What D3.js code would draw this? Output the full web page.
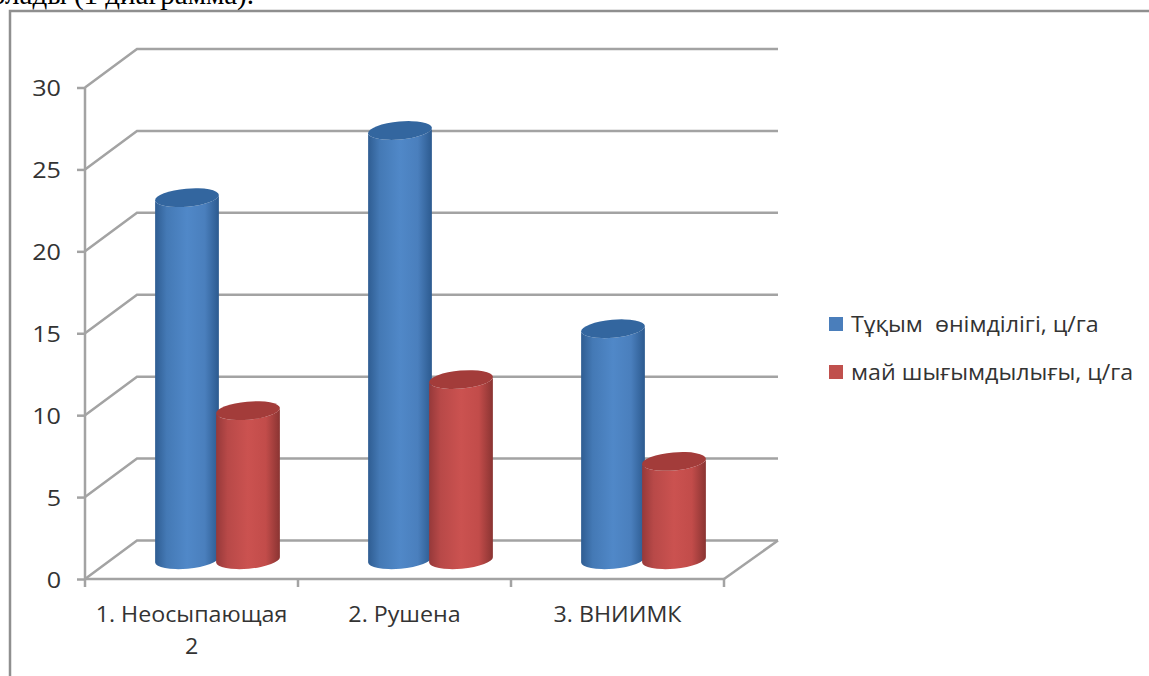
<!DOCTYPE html>
<html>
<head>
<meta charset="utf-8">
<script src="https://cdn.jsdelivr.net/npm/d3@7"></script>
<style>
  html, body { margin: 0; padding: 0; background: #fff; overflow: hidden; }
  text { font-family: "Open Sans", "Noto Sans", sans-serif; fill: #333; }
  .caption { font-family: "Liberation Serif", serif; fill: #000; }
  .legend-label { white-space: pre; }
</style>
</head>
<body>
<div id="chart"></div>
<script>
const categories = ['1. Неосыпающая 2', '2. Рушена', '3. ВНИИМК'];
const seriesNames = ['Тұқым  өнімділігі, ц/га', 'май шығымдылығы, ц/га'];
const seedYield = [22.1, 26.2, 14.1];
const oilYield = [9.1, 11, 6];
const yTicks = [0, 5, 10, 15, 20, 25, 30];
const seriesValues = [seedYield, oilYield];

const width = 1149;
const height = 676;
const gridColor = '#a3a3a3';

// depth of the fake 3D box, front axis to back wall
const depthX = 52;
const depthY = -38.5;
const tilt = -5;

const svg = d3.select('#chart').append('svg')
  .attr('width', width)
  .attr('height', height);

const x = d3.scaleBand().domain(categories).range([85, 724]);
const xSeries = d3.scaleBand().domain(d3.range(seriesNames.length)).range([70, 192]);
const y = d3.scaleLinear().domain([0, 30]).range([579, 87.5]);

// widen a text without touching its height, the fonts here run narrower
function stretch(sel, k) {
  sel.each(function () {
    const len = this.getComputedTextLength();
    d3.select(this).attr('textLength', len * k).attr('lengthAdjust', 'spacingAndGlyphs');
  });
}

// shading across the cylinders
const shades = [
  ['blue', '#2f5d92', '#5088c8', '#4a7fbd', '#2c5a8f'],
  ['red', '#96393a', '#cb5250', '#c24c4a', '#8a3432']
];
const defs = svg.append('defs');
shades.forEach(([name, edgeL, mid, midR, edgeR]) => {
  const grad = defs.append('linearGradient').attr('id', `cyl-${name}`);
  [[0, edgeL], [0.18, d3.interpolateRgb(edgeL, mid)(0.65)], [0.5, mid], [0.78, midR], [1, edgeR]]
    .forEach(([o, c]) => grad.append('stop').attr('offset', o).attr('stop-color', c));
});
const capColors = ['#33669f', '#a33c3a'];
const legendColors = ['#4a7ebb', '#c0504d'];

// page frame and the line of body text running off the top
svg.append('path')
  .attr('d', `M10,${height} V11 H${width}`)
  .attr('fill', 'none')
  .attr('stroke', '#8f8f8f')
  .attr('stroke-width', 2.5);
svg.append('text')
  .attr('class', 'caption')
  .attr('x', 254)
  .attr('y', 4)
  .attr('text-anchor', 'end')
  .attr('font-size', 29)
  .text('олады (1 диаграмма).');

// wall and floor lines
const grid = svg.append('g')
  .attr('fill', 'none')
  .attr('stroke', gridColor)
  .attr('stroke-width', 2.5);
const x0 = x.range()[0];
const x1 = x.range()[1];
grid.selectAll('path')
  .data(yTicks)
  .join('path')
  .attr('d', d => `M${x0},${y(d)} L${x0 + depthX},${y(d) + depthY} H${x1 + depthX + 2}`);
grid.append('path')
  .attr('d', `M${x1},${y(0)} L${x1 + depthX + 2},${y(0) + depthY}`);

// axes
const yAxis = svg.append('g')
  .attr('transform', `translate(${x0},0)`)
  .call(d3.axisLeft(y).tickValues(yTicks).tickSize(8).tickPadding(16));
const xAxis = svg.append('g')
  .attr('transform', `translate(0,${y(0)})`)
  .call(d3.axisBottom(x).tickSize(0).tickPadding(28));
[yAxis, xAxis].forEach(a => {
  a.selectAll('.domain').attr('stroke', gridColor).attr('stroke-width', 2.5);
  a.selectAll('.tick line').attr('stroke', gridColor).attr('stroke-width', 2.5);
  a.selectAll('.tick text').attr('font-size', 21.5).attr('font-family', null).attr('fill', '#333');
});
yAxis.selectAll('.domain').attr('d', `M0,${y(30)} V${y(0)}`);
yAxis.selectAll('.tick text').attr('dy', '0.38em');
stretch(yAxis.selectAll('.tick text'), 1.17);
xAxis.selectAll('.domain').attr('d', `M${x0},0 H${x1}`);

// ticks between the categories sit on the band edges
xAxis.selectAll('.band-tick')
  .data([...categories.map(c => x(c)), x1])
  .join('line')
  .attr('class', 'band-tick')
  .attr('x1', d => d).attr('x2', d => d)
  .attr('y1', 0).attr('y2', 8)
  .attr('stroke', gridColor)
  .attr('stroke-width', 2.5);

// the long label breaks before its last word
xAxis.selectAll('.tick text').each(function (d) {
  const t = d3.select(this);
  const m = d.match(/^(.*) (\d)$/);
  if (!m) return;
  t.text(null);
  t.append('tspan').attr('x', 0).text(m[1]);
  t.append('tspan').attr('x', 0).attr('dy', 32).text(m[2]);
});
stretch(xAxis.selectAll('.tick text tspan'), 1.08);
stretch(xAxis.selectAll('.tick text').filter(function () { return !this.querySelector('tspan'); }), 1.08);

// cylinders, standing halfway into the box
const rx = 32;
const ry = 9;
const rad = tilt * Math.PI / 180;
const ex = rx * Math.cos(rad);
const ey = rx * Math.sin(rad);
const baseShift = depthY / 2;

categories.forEach((cat, i) => {
  seriesValues.forEach((vals, s) => {
    const cx = x(cat) + xSeries(s) + rx;
    const top = y(vals[i]) + baseShift;
    const bottom = y(0) + baseShift;
    const g = svg.append('g');
    g.append('path')
      .attr('d', `M${cx - ex},${top - ey} L${cx - ex},${bottom - ey}`
        + ` A${rx},${ry} ${tilt} 0 0 ${cx + ex},${bottom + ey}`
        + ` L${cx + ex},${top + ey}`
        + ` A${rx},${ry} ${tilt} 0 1 ${cx - ex},${top - ey} Z`)
      .attr('fill', `url(#cyl-${shades[s][0]})`);
    g.append('ellipse')
      .attr('rx', rx)
      .attr('ry', ry)
      .attr('transform', `translate(${cx},${top}) rotate(${tilt})`)
      .attr('fill', capColors[s]);
  });
});

// legend
const legendY = d3.scalePoint().domain(seriesNames).range([324, 372]);
const legend = svg.append('g').selectAll('g')
  .data(seriesNames)
  .join('g')
  .attr('transform', d => `translate(829,${legendY(d)})`);
legend.append('rect')
  .attr('y', -7).attr('width', 14).attr('height', 14)
  .attr('fill', (d, i) => legendColors[i]);
legend.append('text')
  .attr('class', 'legend-label')
  .attr('x', 22)
  .attr('dy', '0.35em')
  .attr('font-size', 21.5)
  .text(d => d)
  .call(stretch, 1.08);
</script>
</body>
</html>
